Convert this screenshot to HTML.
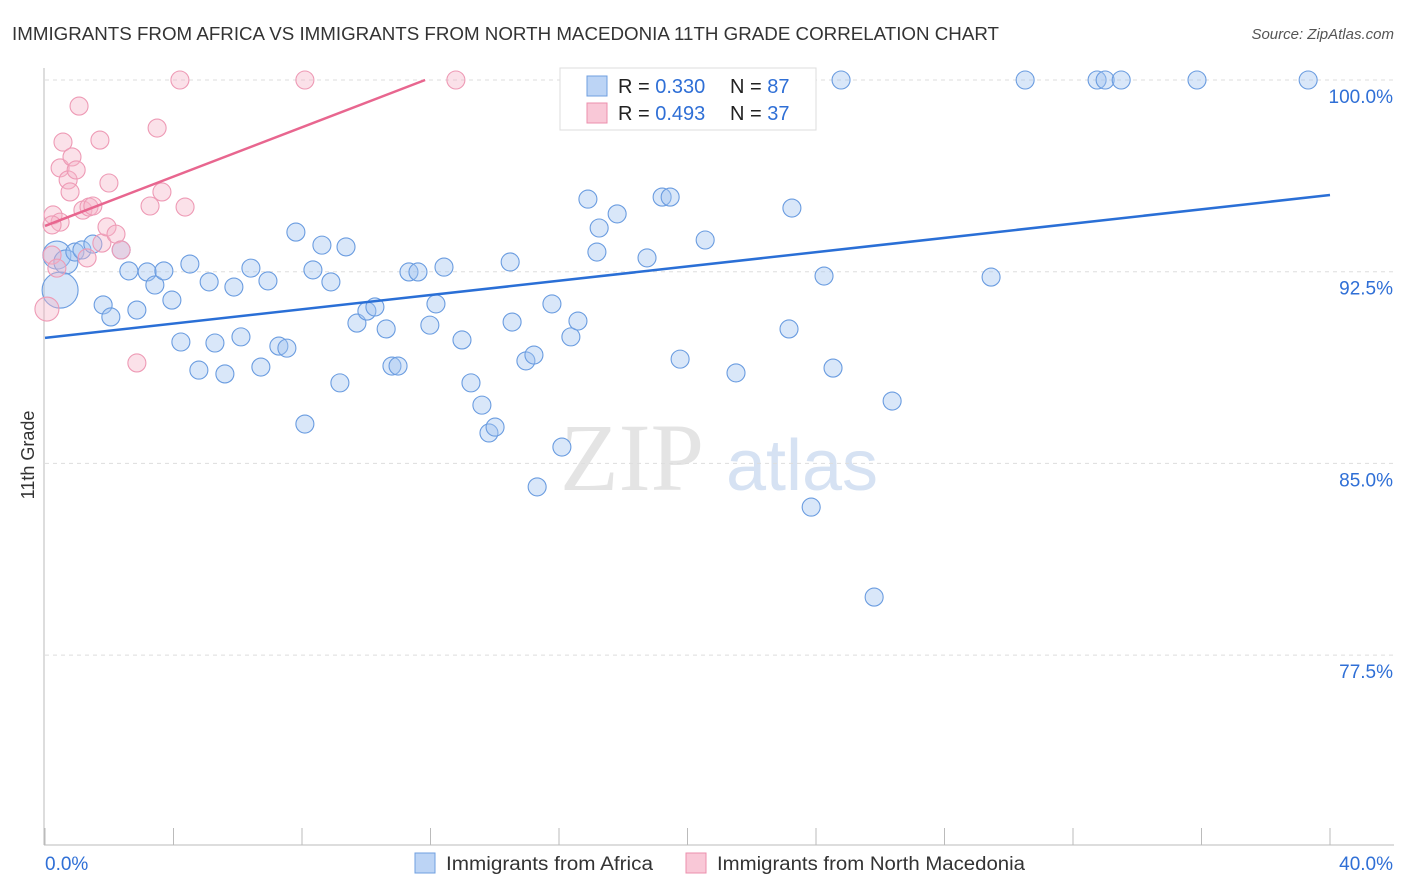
<!DOCTYPE html>
<html><head><meta charset="utf-8"><style>
body{margin:0;background:#fff;font-family:"Liberation Sans",sans-serif;}
#wrap{position:relative;width:1406px;height:892px;overflow:hidden;}
</style></head><body>
<div id="wrap">
<svg id="chart" width="1406" height="892">
<text x="12" y="40" font-size="18.5" fill="#333" textLength="987" lengthAdjust="spacingAndGlyphs">IMMIGRANTS FROM AFRICA VS IMMIGRANTS FROM NORTH MACEDONIA 11TH GRADE CORRELATION CHART</text>
<text x="1394" y="39" font-size="15" fill="#555" font-style="italic" text-anchor="end">Source: ZipAtlas.com</text>
<text x="34" y="455" font-size="18" fill="#333" text-anchor="middle" transform="rotate(-90 34 455)">11th Grade</text>
<g><text x="632" y="490" font-size="96" fill="#e4e4e4" font-family="Liberation Serif,serif" text-anchor="middle">ZIP</text><text x="802" y="490" font-size="72" fill="#d6e2f3" text-anchor="middle">atlas</text></g>
<g id="grid"></g><g id="marks"></g><g id="lines"></g>
<g>
<rect x="560" y="68" width="256" height="62" fill="#fff" stroke="#ddd"/>
<rect x="587" y="76" width="20" height="20" fill="#bcd4f5" stroke="#6f9fe0"/>
<rect x="587" y="103" width="20" height="20" fill="#f9c8d7" stroke="#ec8fad"/>
<text x="618" y="93" font-size="20" fill="#222">R = <tspan fill="#2f6fd6">0.330</tspan><tspan x="730">N = </tspan><tspan fill="#2f6fd6">87</tspan></text>
<text x="618" y="120" font-size="20" fill="#222">R = <tspan fill="#2f6fd6">0.493</tspan><tspan x="730">N = </tspan><tspan fill="#2f6fd6">37</tspan></text>
</g>
<g>
<rect x="415" y="853" width="20" height="20" fill="#bcd4f5" stroke="#6f9fe0"/>
<text x="446" y="870" font-size="19" fill="#333" textLength="207" lengthAdjust="spacingAndGlyphs">Immigrants from Africa</text>
<rect x="686" y="853" width="20" height="20" fill="#f9c8d7" stroke="#ec8fad"/>
<text x="717" y="870" font-size="19" fill="#333" textLength="308" lengthAdjust="spacingAndGlyphs">Immigrants from North Macedonia</text>
</g>
</svg></div>
<script>
const yTicks=[100,92.5,85,77.5];
const yTickLabels=["100.0%","92.5%","85.0%","77.5%"];
const xEndLabels=["0.0%","40.0%"];
const africaX=[0.37,0.65,0.47,0.93,1.15,1.49,1.81,2.05,2.37,2.61,2.86,3.18,3.42,3.70,3.95,4.23,4.51,4.79,5.11,5.29,5.60,5.88,6.10,6.41,6.72,6.94,7.28,7.53,7.81,8.09,8.34,8.62,8.90,9.18,9.37,9.71,10.02,10.27,10.62,10.80,10.99,11.33,11.61,11.98,12.17,12.42,12.98,13.26,13.60,13.82,14.01,14.48,14.54,14.97,15.22,15.32,15.78,16.09,16.37,16.59,16.90,17.18,17.25,17.81,18.74,19.21,19.46,19.77,20.55,21.51,23.16,23.25,23.85,24.25,24.53,25.81,26.37,29.45,24.78,30.51,32.75,33.00,33.50,35.86,39.32,21.98];
const africaY=[93.15,92.88,91.78,93.27,93.35,93.58,91.20,90.73,93.35,92.53,91.00,92.49,91.98,92.53,91.39,89.75,92.80,88.65,92.10,89.71,88.50,91.90,89.95,92.64,88.77,92.14,89.59,89.51,94.05,86.54,92.57,93.54,92.10,88.15,93.47,90.49,90.96,91.12,90.26,88.81,88.81,92.49,92.49,90.41,91.24,92.68,89.83,88.15,87.28,86.19,86.42,92.88,90.53,89.01,89.24,84.08,91.24,85.64,89.95,90.57,95.34,93.27,94.21,94.76,93.04,95.42,95.42,89.08,93.74,88.54,90.26,94.99,83.29,92.33,88.73,79.77,87.44,92.29,100,100,100,100,100,100,100,100];
const africaSize=[14,12,18,9,9,9,9,9,9,9];
const macX=[0.06,0.22,0.37,0.25,0.47,0.22,0.56,0.47,0.72,0.78,0.84,0.97,1.06,1.18,1.31,1.37,1.49,1.71,1.77,1.93,1.99,2.21,2.37,2.86,3.27,3.49,3.64,4.20,4.36,8.09,12.79];
const macY=[91.04,93.15,92.64,94.72,94.44,94.33,97.57,96.56,96.09,95.62,96.99,96.48,98.98,94.91,93.04,95.03,95.07,97.65,93.62,94.25,95.97,93.97,93.35,88.93,95.07,98.12,95.62,100,95.03,100,100];
const macSize=[12];
const africaTrend=[89.91,95.50];
const macTrend=[94.29,0.4826];
const X0=45,X1=1330,xs=v=>X0+(X1-X0)*v/40, ys=v=>80+(100-v)/7.5*191.7;
const NS="http://www.w3.org/2000/svg";
function mk(p,t,a){const e=document.createElementNS(NS,t);for(const k in a)e.setAttribute(k,a[k]);p.appendChild(e);return e;}
const g=document.getElementById('grid'),m=document.getElementById('marks'),l=document.getElementById('lines');
yTicks.forEach((t,i)=>{const ln=mk(g,'line',{x1:45,x2:1394,y1:ys(t),y2:ys(t),stroke:'#ddd','stroke-dasharray':'4,4'});


const tx=mk(g,'text',{x:1393,y:ys(t)+23,'font-size':19,fill:'#2f6fd6','text-anchor':'end'});tx.textContent=yTickLabels[i];

});
mk(g,'line',{x1:44,x2:44,y1:68,y2:845,stroke:'#bbb'});
mk(g,'line',{x1:44,x2:1394,y1:845,y2:845,stroke:'#bbb'});
for(let i=0;i<=10;i++){const x=xs(i*4);const tk=mk(g,'line',{x1:x,x2:x,y1:828,y2:845,stroke:'#bbb'});

}
const xl0=mk(g,'text',{x:45,y:870,'font-size':19,fill:'#2f6fd6'});xl0.textContent=xEndLabels[0];


const xl1=mk(g,'text',{x:1393,y:870,'font-size':19,fill:'#2f6fd6','text-anchor':'end'});xl1.textContent=xEndLabels[1];


africaX.forEach((v,i)=>{const c=mk(m,'circle',{cx:xs(v),cy:ys(africaY[i]),r:africaSize[i]||9,fill:'rgba(160,195,240,0.4)',stroke:'#6a9ce0','stroke-width':1.1});

});
macX.forEach((v,i)=>{const c=mk(m,'circle',{cx:xs(v),cy:ys(macY[i]),r:macSize[i]||9,fill:'rgba(246,180,200,0.4)',stroke:'#ee9ab5','stroke-width':1.1});

});
const tb=mk(l,'line',{x1:xs(0),y1:ys(africaTrend[0]),x2:xs(40),y2:ys(africaTrend[1]),stroke:'#2a6fd6','stroke-width':2.5});


const xe=(100-macTrend[0])/macTrend[1];
const tp=mk(l,'line',{x1:xs(0),y1:ys(macTrend[0]),x2:xs(xe),y2:ys(100),stroke:'#e8668f','stroke-width':2.5});


</script></body></html>
